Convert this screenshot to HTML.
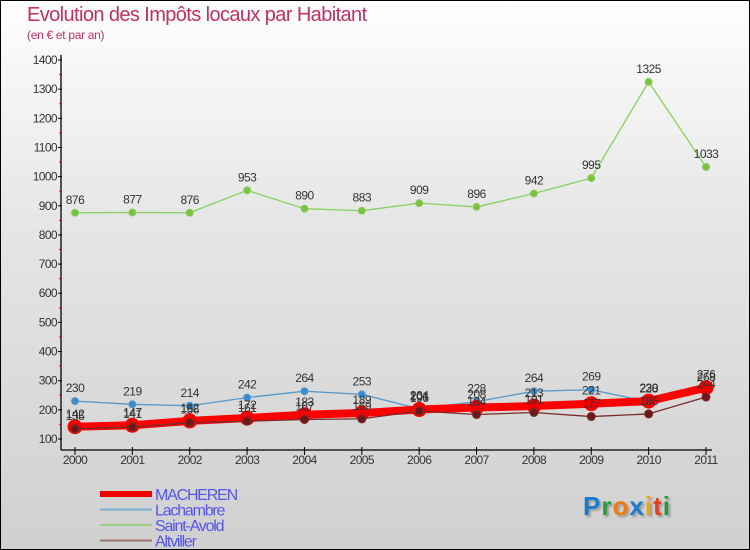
<!DOCTYPE html>
<html><head><meta charset="utf-8"><style>
html,body{margin:0;padding:0}
body{width:750px;height:550px;overflow:hidden;font-family:"Liberation Sans",sans-serif}
#wrap{position:relative;width:748px;height:548px;border:1px solid #000;background:linear-gradient(#fefefe,#e6e6e6 40%,#d0d0d0)}
.t{position:absolute;color:#c03060;white-space:nowrap}
</style></head><body>
<div id="wrap">
<div class="t" style="left:26px;top:3px;font-size:20px;letter-spacing:-0.6px;font-weight:300">Evolution des Impôts locaux par Habitant</div>
<div class="t" style="left:26px;top:27px;font-size:12px;letter-spacing:-0.3px">(en € et par an)</div>
<svg id="c" width="750" height="550" style="position:absolute;left:-1px;top:-1px"></svg>
<div style="position:absolute;left:582px;top:490px;font-size:26px;font-weight:bold;letter-spacing:1px;text-shadow:2px 2px 2px #999"><span style="color:#1a7ad0">P</span><span style="color:#2a9a3a">r</span><span style="color:#f07a10">o</span><span style="color:#1a7ad0">x</span><span style="color:#f0a010">i</span><span style="color:#e04020">t</span><span style="color:#2a9a3a">i</span></div>
</div>
<script>
const years=["2000","2001","2002","2003","2004","2005","2006","2007","2008","2009","2010","2011"];
const yTicks=[100,200,300,400,500,600,700,800,900,1000,1100,1200,1300,1400];
const macheren=[142,147,162,172,183,189,201,208,213,221,230,276];
const lachambre=[230,219,214,242,264,253,204,228,264,269,228,268];
const saintAvold=[876,877,876,953,890,883,909,896,942,995,1325,1033];
const altviller=[135,141,156,161,167,169,196,184,191,177,186,244];
const NS="http://www.w3.org/2000/svg";
const svg=document.getElementById('c');
const X=i=>75+i*(706-75)/11;
const Y=v=>439-(v-100)*(379/1300);
function el(t,a){const e=document.createElementNS(NS,t);for(const k in a)e.setAttribute(k,a[k]);svg.appendChild(e);return e;}
// axes
let ax=el('line',{x1:61,y1:55,x2:61,y2:450,stroke:'#000','stroke-width':1.3});


let bx=el('line',{x1:61,y1:450,x2:712,y2:450,stroke:'#000','stroke-width':1.3});


yTicks.forEach((v,i)=>{
  el('line',{x1:58,x2:62,y1:Y(v),y2:Y(v),stroke:'#000'});
  if(i<yTicks.length-1){el('line',{x1:59,x2:62,y1:Y(v+50),y2:Y(v+50),stroke:'#e00'});}
  const t=el('text',{x:57,y:Y(v)+4,'text-anchor':'end','font-size':12,fill:'#333','letter-spacing':'-0.6'});
  t.textContent=v;
  
  
});
years.forEach((y,i)=>{
  el('line',{x1:X(i),x2:X(i),y1:447,y2:455,stroke:'#000'});
  const t=el('text',{x:X(i),y:464,'text-anchor':'middle','font-size':12,fill:'#333','letter-spacing':'-0.6'});
  t.textContent=y;
  
  
});
function series(vals,color,w,r,fill,name){
  const p=el('polyline',{points:vals.map((v,i)=>X(i)+','+Y(v)).join(' '),fill:'none',stroke:color,'stroke-width':w,'stroke-linejoin':'round'});
  
  
  vals.forEach((v,i)=>{
    const c=el('circle',{cx:X(i),cy:Y(v),r:r,fill:fill,stroke:color,'stroke-width':1});
    
    
    const t=el('text',{x:X(i),y:Y(v)-9,'text-anchor':'middle','font-size':12,fill:'#333','letter-spacing':'-0.5'});
    t.textContent=v;
    
    
  });
}
series(saintAvold,'#88d060',1.3,3.5,'#7cc040','saint-avold');
series(lachambre,'#5599cc',1.3,3.5,'#3a8ad0','lachambre');
series(macheren,'#ff0000',8,7,'#ee0000','macheren');
series(altviller,'#7a2a2a',1.3,4,'#6a1a1a','altviller');
const leg=[["MACHEREN","#ee0000",6],["Lachambre","#7aaed0",2],["Saint-Avold","#9ad080",2],["Altviller","#9a7070",2]];
leg.forEach((l,i)=>{
  const y=494+i*15.5;
  const ln=el('line',{x1:100,x2:152,y1:y,y2:y,stroke:l[1],'stroke-width':l[2]});
  
  
  const t=el('text',{x:155,y:y+6,'font-size':16,fill:'#5555ee','letter-spacing':'-1.2'});
  t.textContent=l[0];
  
  
});
</script>
</body></html>
